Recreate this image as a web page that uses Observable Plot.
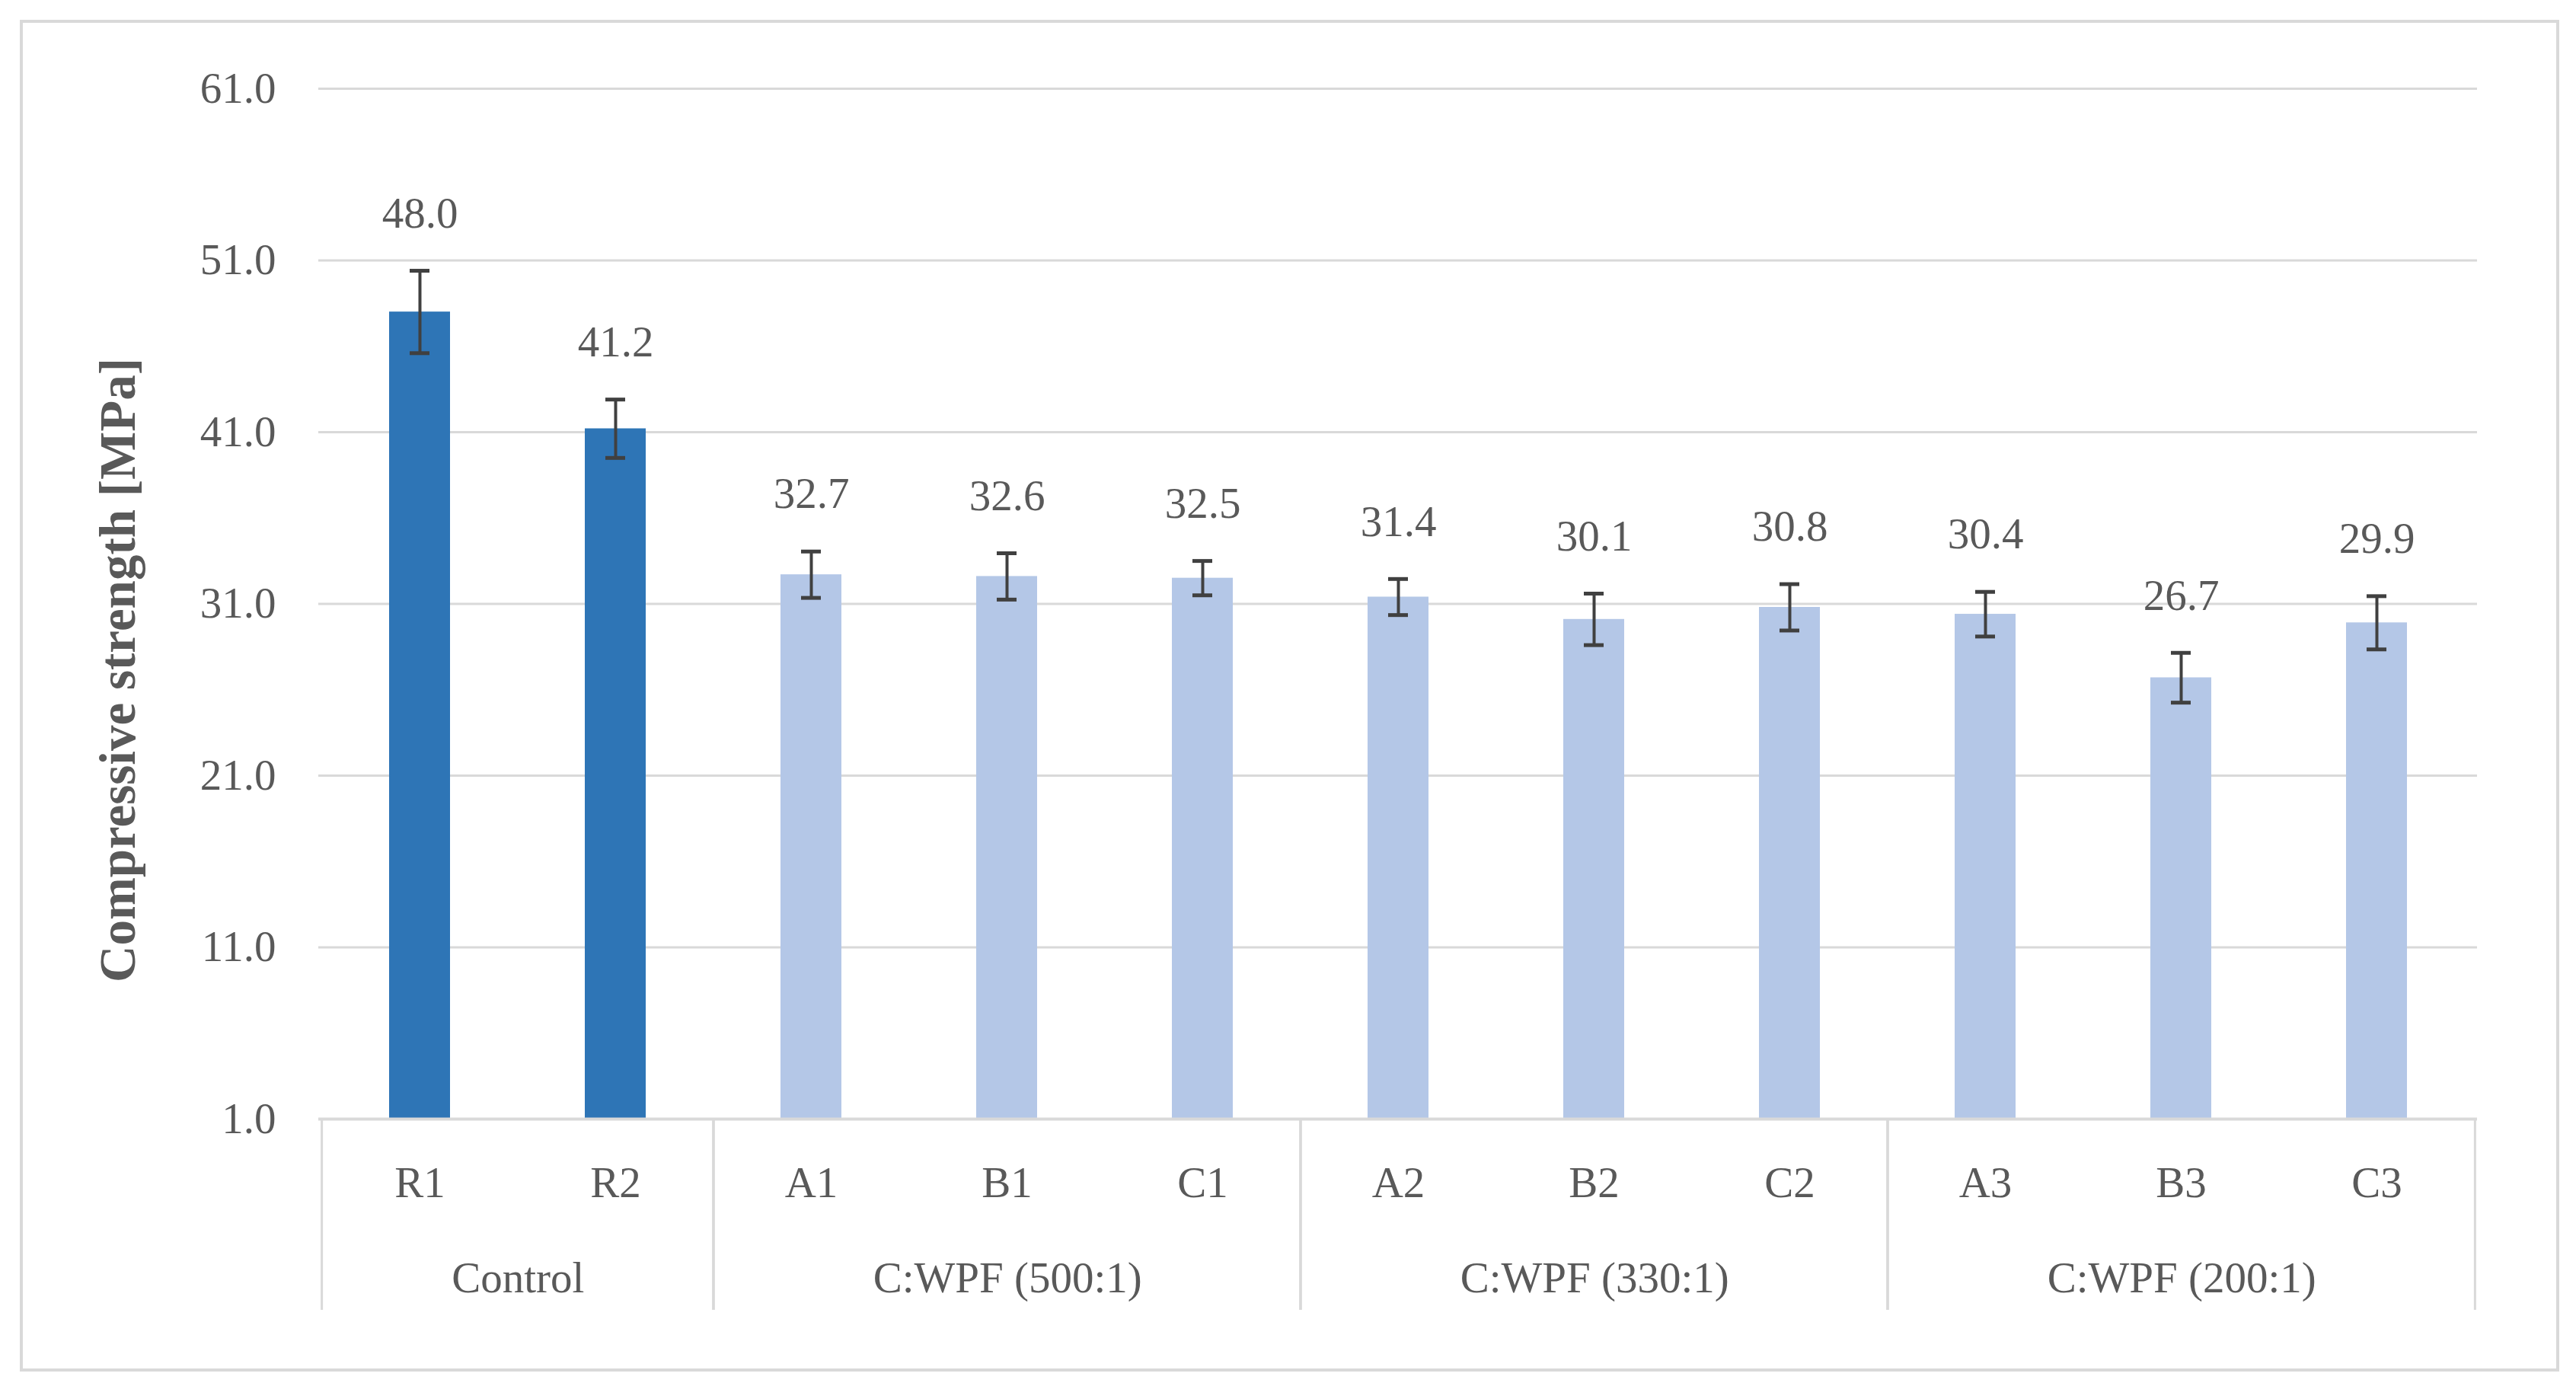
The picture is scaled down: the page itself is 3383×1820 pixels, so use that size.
<!DOCTYPE html>
<html>
<head>
<meta charset="utf-8">
<script src="https://cdn.jsdelivr.net/npm/d3@7"></script>
<script src="https://cdn.jsdelivr.net/npm/@observablehq/plot@0.6"></script>
<style>
  html, body { margin: 0; padding: 0; background: #fff; }
  #wrap { position: relative; width: 3383px; height: 1820px; overflow: hidden; }
  #border { position: absolute; left: 26px; top: 26px; width: 3327px; height: 1767px; border: 4px solid #d9d9d9; }
  #chart { position: absolute; left: 0; top: 0; }
</style>
</head>
<body>
<div id="wrap"><div id="border"></div><div id="chart"></div></div>
<script>
// ---- data ----
const categories = ["R1", "R2", "A1", "B1", "C1", "A2", "B2", "C2", "A3", "B3", "C3"];
const strength   = [48.0, 41.2, 32.7, 32.6, 32.5, 31.4, 30.1, 30.8, 30.4, 26.7, 29.9];
const errors     = [2.4, 1.7, 1.35, 1.35, 1.0, 1.05, 1.5, 1.35, 1.3, 1.45, 1.55];
const groupOf    = ["Control", "Control",
                    "C:WPF (500:1)", "C:WPF (500:1)", "C:WPF (500:1)",
                    "C:WPF (330:1)", "C:WPF (330:1)", "C:WPF (330:1)",
                    "C:WPF (200:1)", "C:WPF (200:1)", "C:WPF (200:1)"];
const groupNames = ["Control", "C:WPF (500:1)", "C:WPF (330:1)", "C:WPF (200:1)"];
const yTicks     = [1, 11, 21, 31, 41, 51, 61];
const yTitle     = "Compressive strength [MPa]";

// ---- layout ----
const W = 3383, H = 1820;
const ML = 418, MR = 130, MT = 116, MB = 351;
const FONT = "'Liberation Serif', 'DejaVu Serif', serif";
const TXT = "#595959";
const GRID = "#d9d9d9";

const data = categories.map((c, i) => ({
  cat: c, v: strength[i], e: errors[i], group: groupOf[i],
  kind: groupOf[i] === "Control" ? "control" : "treated"
}));

const xOpts = {type: "band", domain: categories, range: [ML, W - MR], paddingInner: 0.69, paddingOuter: 0.345};
const xs = Plot.scale({x: xOpts});
const step = xs.step;
const ys = Plot.scale({y: {type: "linear", domain: [1, 61], range: [H - MB, MT]}});
const yBottom = ys.invert(1720);

const groupsData = groupNames.map(g => {
  const members = data.filter(d => d.group === g);
  return {name: g, first: members[0].cat, last: members[members.length - 1].cat, n: members.length};
});

const groupLabelMarks = groupsData.map(g =>
  Plot.text([g], {
    x: d => d.first, text: d => d.name, dx: (g.n - 1) * step / 2,
    frameAnchor: "bottom", dy: 209, lineAnchor: "middle",
    fontSize: 57, fill: TXT
  })
);

const chart = Plot.plot({
  width: W, height: H,
  marginLeft: ML, marginRight: MR, marginTop: MT, marginBottom: MB,
  style: {fontFamily: FONT, color: TXT, background: "transparent", overflow: "visible"},
  x: {...xOpts, range: undefined, label: null},
  y: {domain: [1, 61], label: null},
  color: {domain: ["control", "treated"], range: ["#2e75b6", "#b4c7e7"]},
  marks: [
    Plot.gridY(yTicks, {stroke: GRID, strokeOpacity: 1, strokeWidth: 3}),
    Plot.axisY({ticks: yTicks, tickFormat: d3.format(".1f"), tickSize: 0, tickPadding: 56, fontSize: 57, label: null, fill: TXT}),
    Plot.barY(data, {x: "cat", y1: 1, y2: "v", fill: "kind"}),
    Plot.ruleY([1], {stroke: GRID, strokeWidth: 4}),
    Plot.ruleX(groupsData, {x: "first", dx: -step / 2, y1: 1, y2: yBottom, stroke: GRID, strokeWidth: 3}),
    Plot.ruleX(groupsData, {x: "last", dx: step / 2, y1: 1, y2: yBottom, stroke: GRID, strokeWidth: 3}),
    Plot.ruleX(data, {x: "cat", y1: d => d.v - d.e, y2: d => d.v + d.e, stroke: "#404040", strokeWidth: 4}),
    Plot.tickY(data, {x: "cat", y: d => d.v + d.e, insetLeft: 27, insetRight: 27, stroke: "#404040", strokeWidth: 5}),
    Plot.tickY(data, {x: "cat", y: d => d.v - d.e, insetLeft: 27, insetRight: 27, stroke: "#404040", strokeWidth: 5}),
    Plot.text(data, {x: "cat", y: d => d.v + d.e, text: d => d.v.toFixed(1), dy: -75, lineAnchor: "middle", fontSize: 57, fill: TXT}),
    Plot.axisX({tickSize: 0, tickPadding: 84, lineAnchor: "middle", fontSize: 57, label: null, fill: TXT}),
    ...groupLabelMarks,
    Plot.text([yTitle], {frameAnchor: "left", textAnchor: "middle", lineAnchor: "middle", rotate: -90, dx: -263, dy: 87, fontSize: 67, fontWeight: "bold", fill: TXT})
  ]
});
document.getElementById("chart").appendChild(chart);
</script>
</body>
</html>
